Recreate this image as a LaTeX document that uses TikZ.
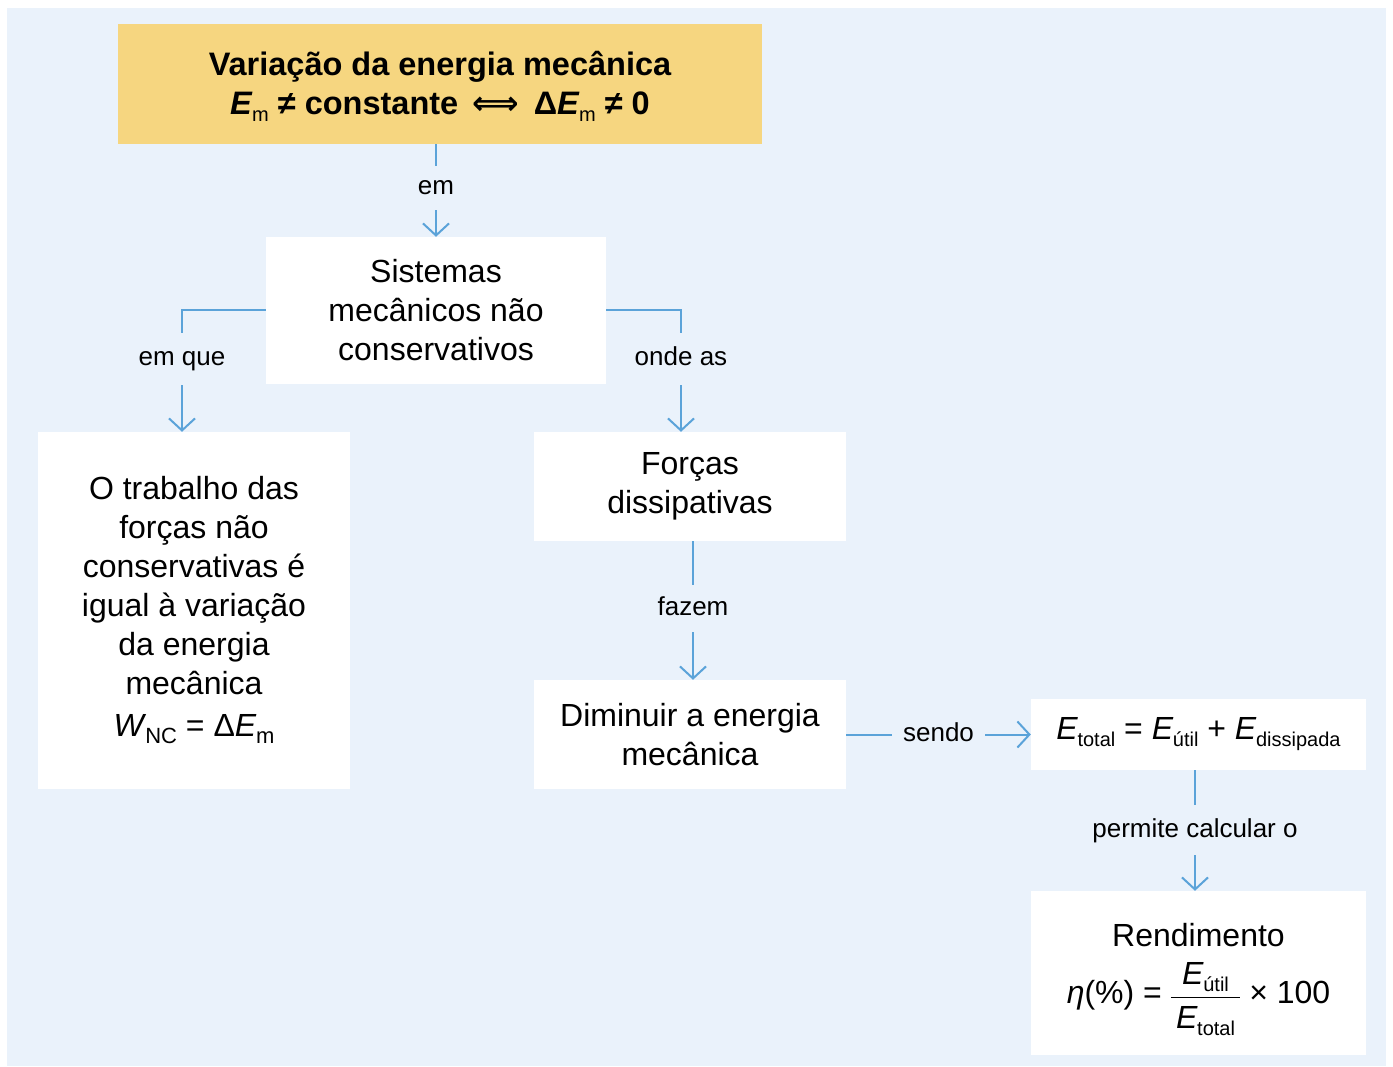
\documentclass[tikz,border=0pt]{standalone}
\usepackage{fontspec}
\setmainfont{Liberation Sans}
\newfontfamily\djv{DejaVu Sans}
\usetikzlibrary{arrows.meta}
\definecolor{bg}{HTML}{EAF2FB}
\definecolor{ttl}{HTML}{F6D680}
\definecolor{ln}{HTML}{5BA3D9}
\newcommand{\Ex}[2][20]{\textit{E}\kern-0.5pt\raisebox{-7pt}{\fontsize{#1}{#1}\selectfont #2}}
\newcommand{\Eb}[1]{\textbf{\textit{E}}\kern-0.5pt\raisebox{-7pt}{\fontsize{20}{20}\selectfont\mdseries #1}}
\begin{document}
\begin{tikzpicture}[x=1pt,y=-1pt,
  box/.style={fill=white, inner sep=0pt, align=center, font=\fontsize{32}{39}\selectfont},
  lbl/.style={font=\fontsize{26}{30}\selectfont, text height=14pt, text depth=0pt, inner sep=0pt},
  con/.style={draw=ln, line width=2pt},
  arr/.style={con, -{Straight Barb[length=12pt,width=26pt]}}]
\useasboundingbox (0,0) rectangle (1393,1067);
\fill[bg] (7,8) rectangle (1386,1066);

\node[box, fill=ttl, minimum width=644pt, minimum height=120pt,
      font=\bfseries\fontsize{32.5}{39}\selectfont] (title) at (440,84)
  {\rule{0pt}{30pt}Variação da energia mecânica\\
   \Eb{m} ≠ constante \,{\djv\bfseries ⟺}\, Δ\Eb{m} ≠ 0};

\node[box, minimum width=340pt, minimum height=147pt] (sis) at (436,310.5)
  {Sistemas\\mecânicos não\\conservativos};

\node[box, minimum width=312pt, minimum height=357pt] (trab) at (194,610.5)
  {O trabalho das\\forças não\\conservativas é\\igual à variação\\da energia\\mecânica\\[3pt]
   \textit{W}\kern-1pt\raisebox{-7pt}{\fontsize{22}{22}\selectfont NC} = Δ\Ex[22]{m}};

\node[box, minimum width=312pt, minimum height=109pt] (forcas) at (690,486.5)
  {Forças\\dissipativas};

\node[box, minimum width=312pt, minimum height=109pt] (dimin) at (690,734.5)
  {Diminuir a energia\\mecânica};

\node[box, minimum width=335pt, minimum height=71pt] (etot) at (1198.5,734.5)
  {\Ex{total} = \Ex{útil} + \Ex{dissipada}};

\node[box, minimum width=335pt, minimum height=164pt] (rend) at (1198.5,973)
  {\rule{0pt}{42pt}Rendimento\\[6pt]
   \textit{η}(\%) = {\setlength\arrayrulewidth{1.5pt}\renewcommand\arraystretch{1.1}%
   \begin{tabular}{@{}c@{}}\,\Ex{útil}\,\\\hline\,\Ex{total}\,\end{tabular}} × 100};

% labels
\node[lbl, minimum height=44pt] (em) at (436,188) {em};
\node[lbl, minimum height=52pt] (emque) at (182,359) {em que};
\node[lbl, minimum height=52pt] (ondeas) at (681,359) {onde as};
\node[lbl, minimum height=47pt] (fazem) at (693,608.5) {fazem};
\node[lbl, minimum width=93pt, minimum height=40pt] (sendo) at (938.5,734.5) {sendo};
\node[lbl, minimum height=50pt] (permite) at (1195,830) {permite calcular o};

% connectors
\draw[con] (em.north |- title.south) -- (em.north);
\draw[arr] (em.south) -- (em.south |- sis.north);

\draw[con] (sis.west) -| (emque.north);
\draw[arr] (emque.south) -- (emque.south |- trab.north);

\draw[con] (sis.east) -| (ondeas.north);
\draw[arr] (ondeas.south) -- (ondeas.south |- forcas.north);

\draw[con] (fazem.north |- forcas.south) -- (fazem.north);
\draw[arr] (fazem.south) -- (fazem.south |- dimin.north);

\draw[con] (dimin.east) -- (sendo.west);
\draw[arr] (sendo.east) -- (etot.west);

\draw[con] (permite.north |- etot.south) -- (permite.north);
\draw[arr] (permite.south) -- (permite.south |- rend.north);
\end{tikzpicture}
\end{document}
